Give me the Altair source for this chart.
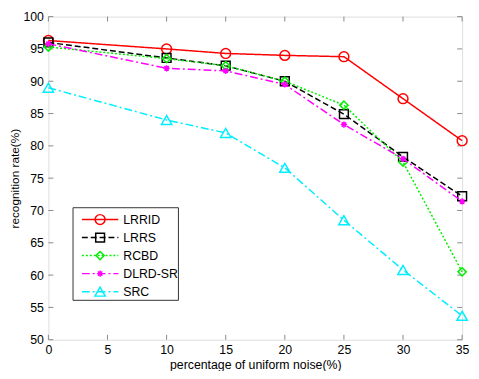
import altair as alt
import pandas as pd

noise = [0, 10, 15, 20, 25, 30, 35]
lrrid = [96.3, 95.0, 94.3, 94.0, 93.8, 87.3, 80.8]
lrrs = [96.0, 93.6, 92.4, 90.0, 84.9, 78.3, 72.2]
rcbd = [95.3, 93.5, 92.4, 90.0, 86.3, 77.5, 60.5]
dlrdsr = [95.8, 92.0, 91.6, 89.5, 83.3, 78.0, 71.4]
src = [89.0, 84.0, 82.0, 76.6, 68.5, 60.8, 53.7]

names = ["LRRID", "LRRS", "RCBD", "DLRD-SR", "SRC"]
values = [lrrid, lrrs, rcbd, dlrdsr, src]
colors = ["#ff0000", "#000000", "#00ee00", "#ff00ff", "#00eeff"]
dashes = [[1, 0], [6, 3], [2, 2], [8, 3, 2, 3], [8, 3, 2, 3]]
ASTER = "M-1,0L1,0M0,-1L0,1M-0.7,-0.7L0.7,0.7M-0.7,0.7L0.7,-0.7"
shapes = ["circle", "square", "diamond", ASTER, "triangle-up"]
sizes = [100, 80, 70, 40, 110]

x_ticks = [0, 5, 10, 15, 20, 25, 30, 35]
y_ticks = [50, 55, 60, 65, 70, 75, 80, 85, 90, 95, 100]

W, H = 420, 328
FONT = "Liberation Sans"
GRAY = "#888888"

xs = alt.Scale(domain=[0, 35], nice=False)
ys = alt.Scale(domain=[50, 100], nice=False)

x_axis = alt.Axis(values=x_ticks, title="percentage of uniform noise(%)",
                  domain=False, ticks=False, grid=False, labelOverlap=False,
                  labelFlush=False,
                  labelFont=FONT, labelFontSize=12.5, labelColor="black",
                  labelPadding=4, titleFont=FONT, titleFontSize=12.5,
                  titleFontWeight="normal", titleColor="black",
                  titlePadding=3)
y_axis = alt.Axis(values=y_ticks, title="recognition rate(%)",
                  domain=False, ticks=False, grid=False, labelOverlap=False,
                  labelFlush=False,
                  labelFont=FONT, labelFontSize=12.5, labelColor="black",
                  labelPadding=5, titleFont=FONT, titleFontSize=12,
                  titleFontWeight="normal", titleColor="black",
                  titlePadding=1)


def X(f="x"):
    return alt.X(f"{f}:Q", scale=xs, axis=x_axis)


def Y(f="y"):
    return alt.Y(f"{f}:Q", scale=ys, axis=y_axis)


layers = []

base_df = pd.DataFrame({"x": [0], "y": [50]})
layers.append(alt.Chart(base_df).mark_point(opacity=0).encode(x=X(), y=Y()))

xt = pd.DataFrame({"x": x_ticks})
yt = pd.DataFrame({"y": y_ticks})
for y1, y2 in [(H, H - 5), (0, 5)]:
    layers.append(alt.Chart(xt).mark_rule(color=GRAY, strokeWidth=1).encode(
        x=X(), y=alt.value(y1), y2=alt.value(y2)))
for x1, x2 in [(0, 5), (W - 5, W)]:
    layers.append(alt.Chart(yt).mark_rule(color=GRAY, strokeWidth=1).encode(
        y=Y(), x=alt.value(x1), x2=alt.value(x2)))

for name, vals, c, d, sh, sz in zip(names, values, colors, dashes, shapes, sizes):
    df = pd.DataFrame({"x": noise, "y": vals})
    layers.append(alt.Chart(df).mark_line(color=c, strokeWidth=1.5, strokeDash=d).encode(
        x=X(), y=Y()))
    layers.append(alt.Chart(df).mark_point(color=c, shape=sh, size=sz, strokeWidth=1.5,
                                           filled=False, opacity=1, clip=False).encode(
        x=X(), y=Y()))

leg_df = pd.DataFrame({"t": [""]})
layers.append(alt.Chart(leg_df).mark_rect(fill="white", stroke="#333333", strokeWidth=1).encode(
    x=alt.value(25), x2=alt.value(132), y=alt.value(194), y2=alt.value(288)))
row0, step = 206, 18.3
for i, (name, c, d, sh, sz) in enumerate(zip(names, colors, dashes, shapes, sizes)):
    ry = row0 + i * step
    ldf = pd.DataFrame({"name": [name]})
    layers.append(alt.Chart(ldf).mark_rule(color=c, strokeWidth=1.5, strokeDash=d).encode(
        x=alt.value(34), x2=alt.value(71), y=alt.value(ry)))
    layers.append(alt.Chart(ldf).mark_point(color=c, shape=sh, size=sz, strokeWidth=1.5,
                                            filled=False, opacity=1).encode(
        x=alt.value(52.5), y=alt.value(ry)))
    layers.append(alt.Chart(ldf).mark_text(align="left", baseline="middle", font=FONT,
                                           fontSize=12.5, color="black").encode(
        x=alt.value(76), y=alt.value(ry + 0.5), text="name:N"))

chart = alt.layer(*layers).properties(
    width=W, height=H,
    autosize=alt.AutoSizeParams(type="none"),
    padding={"left": 41, "top": 6, "right": 9, "bottom": 29},
).configure_view(stroke=GRAY, strokeWidth=1).configure(background="white")

chart.save("out.html", embed_options={"renderer": "svg", "actions": False})
